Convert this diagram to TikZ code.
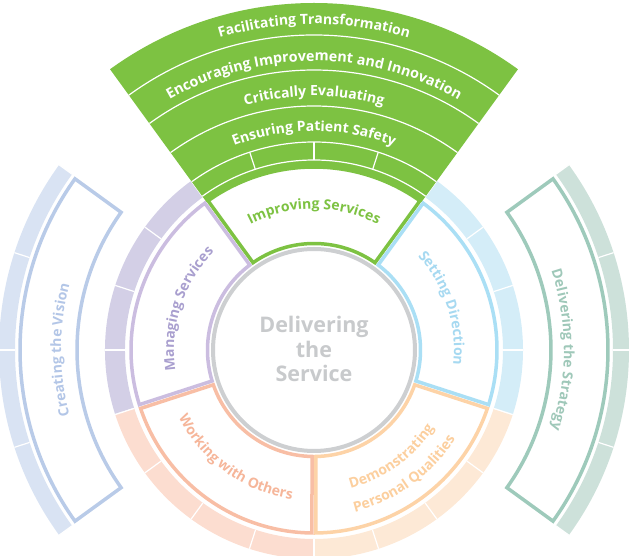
\documentclass[tikz,border=0pt]{standalone}
\usepackage{fontspec}
\setmainfont{Open Sans}
\usetikzlibrary{decorations.text}
\definecolor{grn}{HTML}{7DC242}
\definecolor{purband}{HTML}{D3CFE6}
\definecolor{purline}{HTML}{CBBDE0}
\definecolor{purtext}{HTML}{A99FCF}
\definecolor{bluband}{HTML}{D4EDF8}
\definecolor{bluline}{HTML}{AADFF5}
\definecolor{blutext}{HTML}{A6D9F1}
\definecolor{pchband}{HTML}{FDE9D6}
\definecolor{pchline}{HTML}{FDD3A7}
\definecolor{pchtext}{HTML}{FCCF9E}
\definecolor{salband}{HTML}{FCDDD0}
\definecolor{salline}{HTML}{F8BEA5}
\definecolor{saltext}{HTML}{F6B69A}
\definecolor{gryline}{HTML}{CDCFD1}
\definecolor{grytext}{HTML}{C8CACC}
\definecolor{visband}{HTML}{D9E3F3}
\definecolor{visline}{HTML}{B9CBE8}
\definecolor{vistext}{HTML}{B3C6E7}
\definecolor{strband}{HTML}{CDE1DA}
\definecolor{strline}{HTML}{9ECABB}
\definecolor{strtext}{HTML}{9FC8B9}
% annular band with four cells
\newcommand\cellband[5]{%
  \fill[#5] (#1:#3pt) arc[start angle=#1, end angle=#2, radius=#3pt] -- (#2:#4pt) arc[start angle=#2, end angle=#1, radius=#4pt] -- cycle;
  \foreach \k in {0,1,2,3,4} \draw[white, line width=1.2pt] ({#1+\k*(#2-#1)/4}:#3pt) -- ({#1+\k*(#2-#1)/4}:#4pt);
}
% outlined sector box, edges inset by 2pt
\newcommand\secbox[5]{%
  \draw[#5] ({#1+asin(2/#3)}:#3pt) arc[start angle={#1+asin(2/#3)}, end angle={#2-asin(2/#3)}, radius=#3pt]
    -- ({#2-asin(2/#4)}:#4pt) arc[start angle={#2-asin(2/#4)}, end angle={#1+asin(2/#4)}, radius=#4pt] -- cycle;
}
% text along an arc
\newcommand\arctext[6]{%
  \path[decorate, decoration={text along path, text align=center, text color=#4,
    text={|\fontsize{#5}{#5}\selectfont\bfseries|#6}}]
    (#1:#3pt) arc[start angle=#1, end angle=#2, radius=#3pt];
}
\begin{document}
\begin{tikzpicture}[x=1pt, y=1pt, line join=miter]
\useasboundingbox (-314,-206) rectangle (316,350);
\tikzset{boxline/.style={line width=3.5pt, fill=white}}
% outer bands of the four coloured sectors
\cellband{126}{198}{189}{209}{purband}
\cellband{198}{270}{189}{209}{salband}
\cellband{270}{342}{189}{209}{pchband}
\cellband{-18}{54}{189}{209}{bluband}
% green fan
\fill[grn] (54:183pt) arc[start angle=54, end angle=126, radius=183pt] -- (126:347pt) arc[start angle=126, end angle=54, radius=347pt] -- cycle;
\foreach \r in {190,208,244,280,315}
  \draw[white, line width=1.2pt] (54:\r pt) arc[start angle=54, end angle=126, radius=\r pt];
\foreach \a in {72,90,108}
  \draw[white, line width=1.2pt] (\a:190pt) -- (\a:208pt);
% sector boxes
\secbox{54}{126}{106.5}{183}{boxline, draw=grn}
\secbox{126}{198}{106.5}{183}{boxline, draw=purline}
\secbox{198}{270}{106.5}{183}{boxline, draw=salline}
\secbox{270}{342}{106.5}{183}{boxline, draw=pchline}
\secbox{-18}{54}{106.5}{183}{boxline, draw=bluline}
% centre circle
\draw[gryline, line width=4pt, fill=white] (0,0) circle[radius=101pt];
\node[align=center, text=grytext, font=\fontsize{21.5}{24.5}\selectfont\bfseries] (centre) at (0,1) {Delivering\\the\\Service};
% side boxes
\cellband{144}{216}{299}{315}{visband}
\secbox{144}{216}{237}{294}{boxline, draw=visline}
\cellband{-36}{36}{299}{315}{strband}
\secbox{-36}{36}{237}{294}{boxline, draw=strline}
% labels
\arctext{126}{54}{326}{white}{14}{Facilitating Transformation}
\arctext{126}{54}{289}{white}{14.3}{Encouraging Improvement and Innovation}
\arctext{126}{54}{254}{white}{14}{Critically Evaluating}
\arctext{126}{54}{219}{white}{14}{Ensuring Patient Safety}
\arctext{126}{54}{141}{grn}{14}{Improving Services}
\arctext{198}{126}{140}{purtext}{14}{Managing Services}
\arctext{54}{-18}{140}{blutext}{14}{Setting Direction}
\arctext{198}{270}{151}{saltext}{14}{Working with Others}
\arctext{270}{342}{143}{pchtext}{14}{Demonstrating}
\arctext{270}{342}{167}{pchtext}{14}{Personal Qualities}
\arctext{216}{144}{253}{vistext}{14}{Creating the Vision}
\arctext{36}{-36}{250}{strtext}{14}{Delivering the Strategy}
\end{tikzpicture}
\end{document}
